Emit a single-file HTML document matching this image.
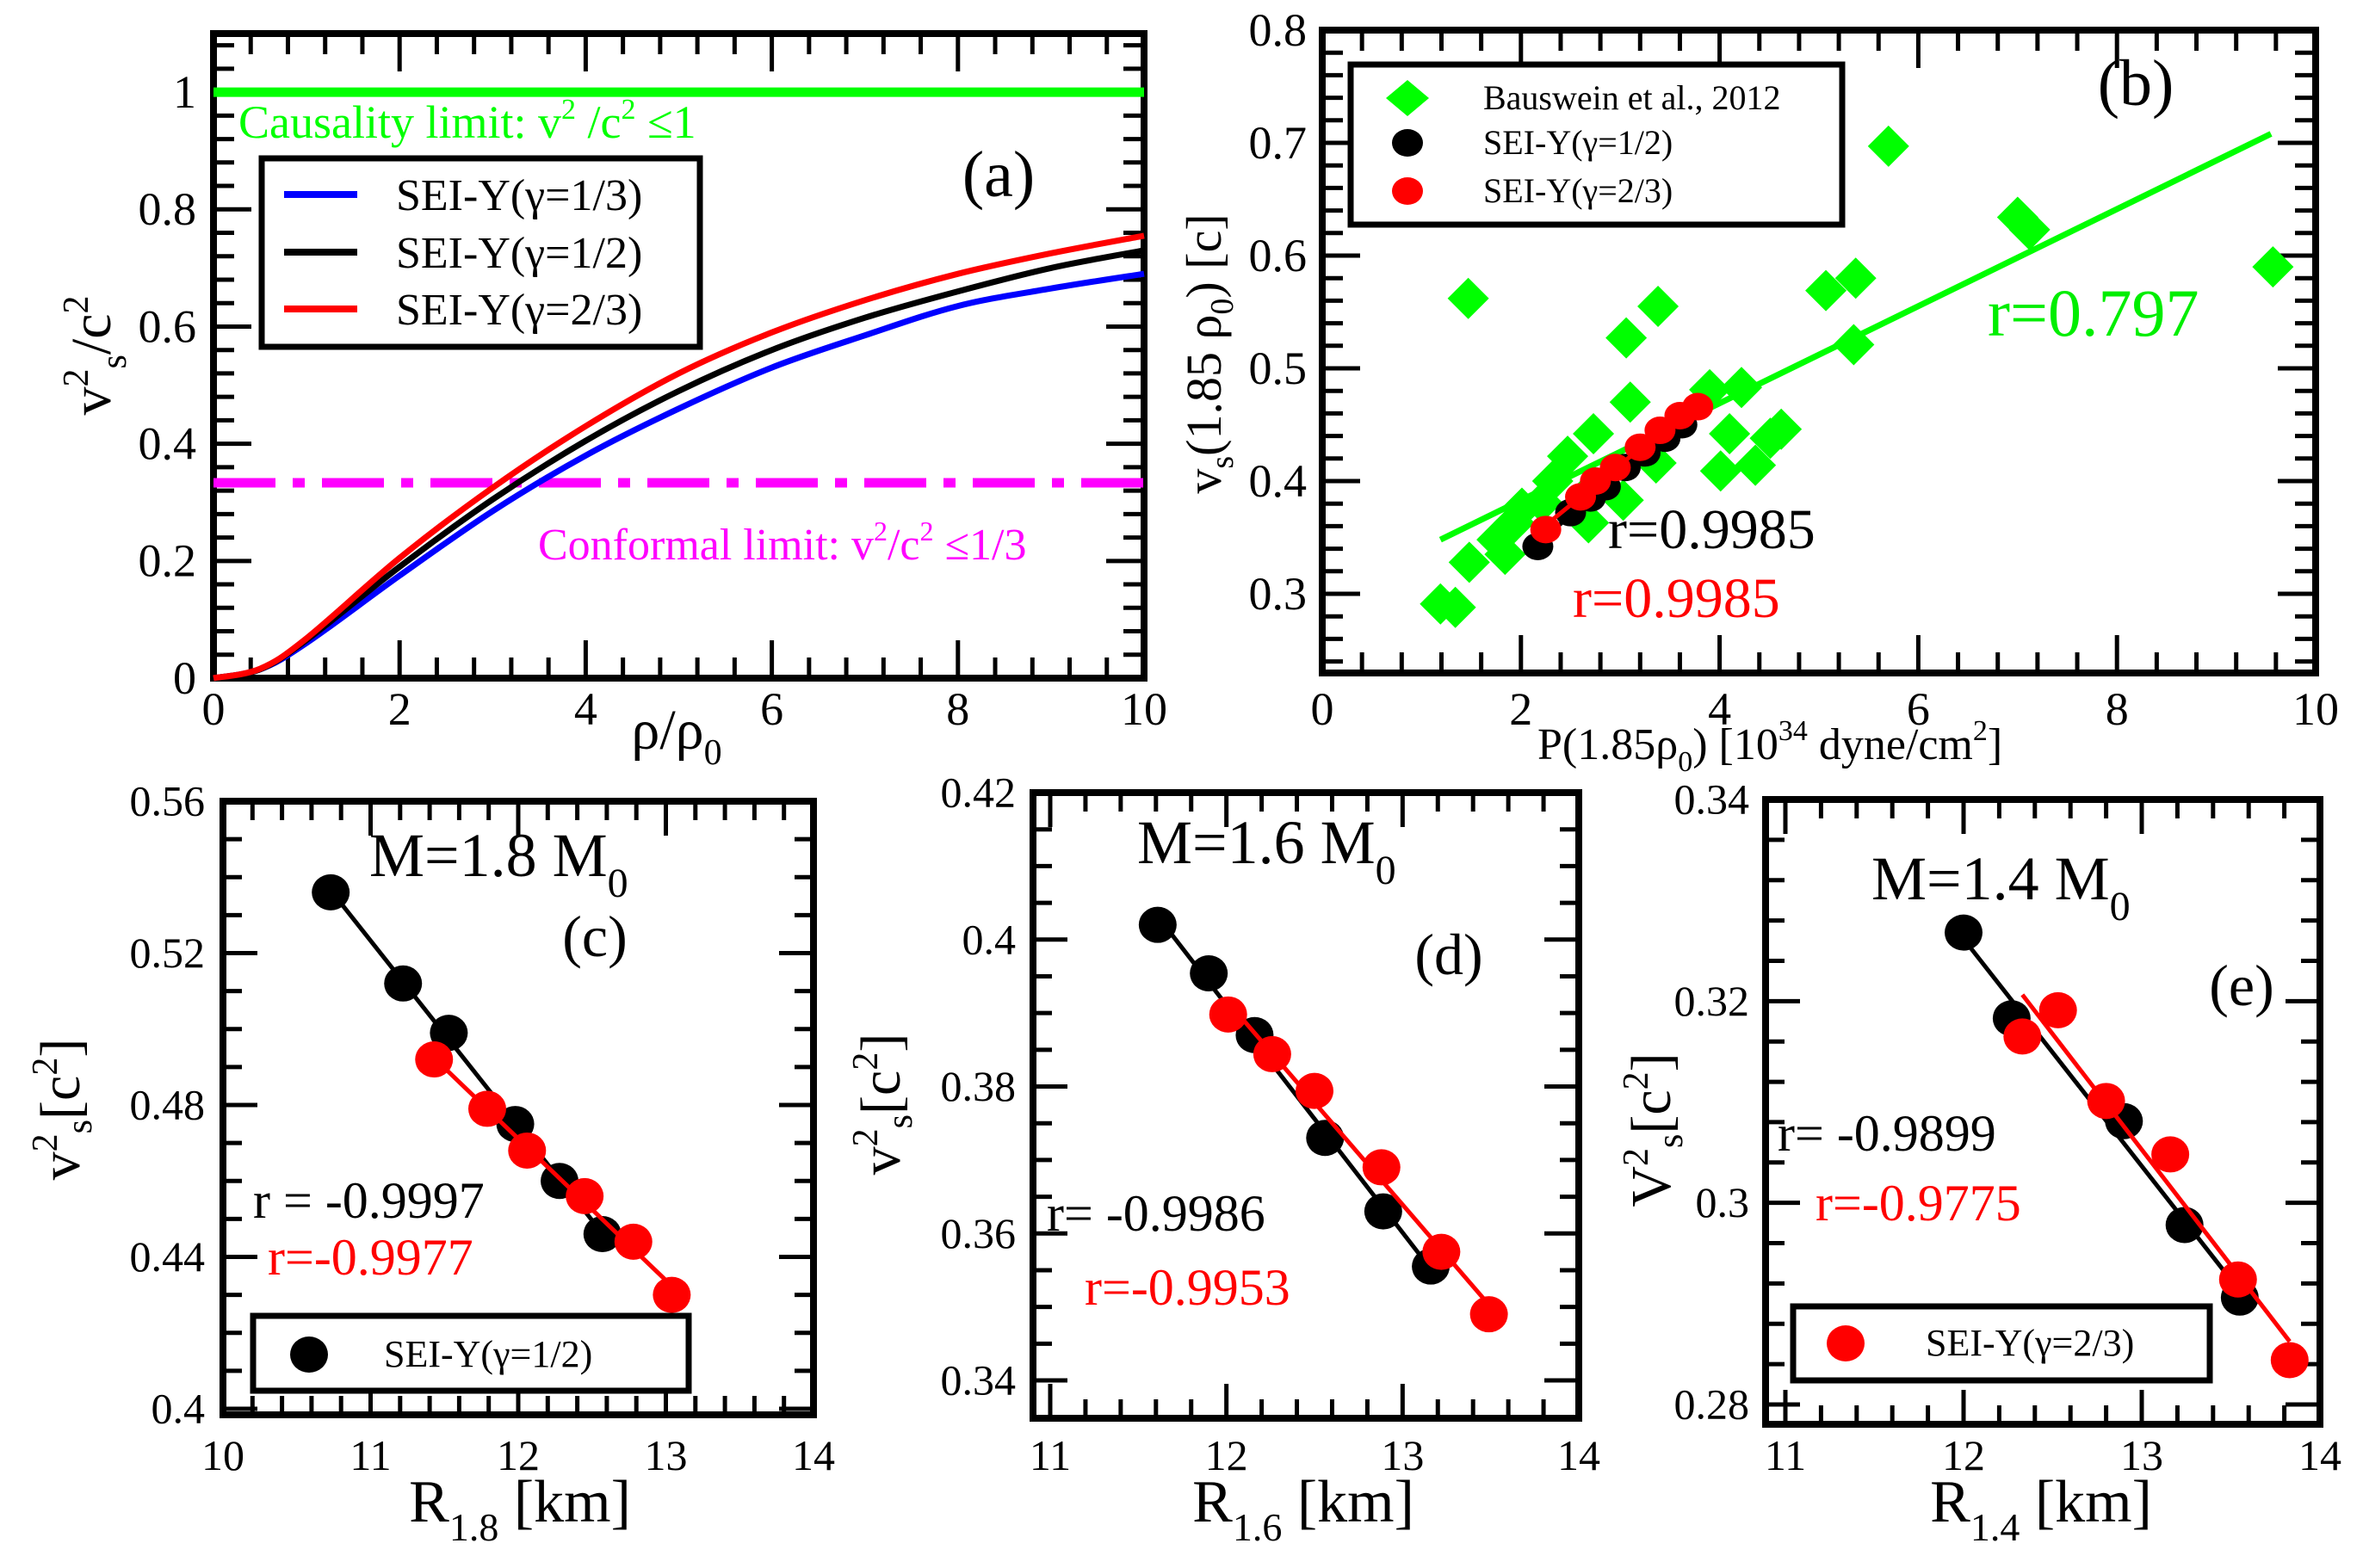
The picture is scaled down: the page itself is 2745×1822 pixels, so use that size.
<!DOCTYPE html>
<html><head><meta charset="utf-8"><style>
html,body{margin:0;padding:0;background:#fff}
svg{display:block;font-family:"Liberation Serif",serif}
</style></head><body>
<svg id="fig" width="2745" height="1822" viewBox="0 0 2745 1822" xmlns="http://www.w3.org/2000/svg">
<g id="static">
<text x="277" y="160" font-size="54" fill="#00ff00">Causality limit: v<tspan dy="-22" font-size="34">2</tspan><tspan dy="22"> /c</tspan><tspan dy="-22" font-size="34">2</tspan><tspan dy="22"> ≤1</tspan></text>
<text x="625" y="650" font-size="52" fill="#ff00ff">Conformal limit: v<tspan dy="-22" font-size="32">2</tspan><tspan dy="22">/c</tspan><tspan dy="-22" font-size="32">2</tspan><tspan dy="22"> ≤1/3</tspan></text>
<text x="1160" y="228" font-size="76" text-anchor="middle">(a)</text>
<text transform="translate(128,413) rotate(-90)" font-size="66" text-anchor="middle">v<tspan dy="-26" font-size="42">2</tspan><tspan dy="44" font-size="42">s</tspan><tspan dy="-18">/c</tspan><tspan dy="-26" font-size="42">2</tspan></text>
<text x="786" y="870" font-size="66" text-anchor="middle">ρ/ρ<tspan dy="18" font-size="42">0</tspan></text>
<text x="2481" y="122" font-size="76" text-anchor="middle">(b)</text>
<text x="2309" y="390" font-size="78" fill="#00ee00">r=0.797</text>
<text x="1868" y="637" font-size="66">r=0.9985</text>
<text x="1827" y="717" font-size="66" fill="#ff0000">r=0.9985</text>
<text transform="translate(1418,411) rotate(-90)" font-size="58" text-anchor="middle">v<tspan dy="14" font-size="38">s</tspan><tspan dy="-14">(1.85 ρ</tspan><tspan dy="14" font-size="38">0</tspan><tspan dy="-14">) [c]</tspan></text>
<text x="1786" y="882" font-size="52">P(1.85ρ<tspan dy="14" font-size="34">0</tspan><tspan dy="-14">)  [10</tspan><tspan dy="-22" font-size="34">34</tspan><tspan dy="22"> dyne/cm</tspan><tspan dy="-22" font-size="34">2</tspan><tspan dy="22">]</tspan></text>
<text x="429" y="1018" font-size="72">M=1.8 M<tspan dy="24" font-size="48">0</tspan></text>
<text x="691" y="1111" font-size="68" text-anchor="middle">(c)</text>
<text x="294" y="1415" font-size="60">r = -0.9997</text>
<text x="311" y="1481" font-size="60" fill="#ff0000">r=-0.9977</text>
<text transform="translate(92,1289) rotate(-90)" font-size="66" text-anchor="middle">v<tspan dy="-26" font-size="42">2</tspan><tspan dy="40" font-size="42">s</tspan><tspan dy="-14">[c</tspan><tspan dy="-26" font-size="42">2</tspan><tspan dy="26">]</tspan></text>
<text x="604" y="1768" font-size="70" text-anchor="middle">R<tspan dy="22" font-size="46">1.8</tspan><tspan dy="-22"> [km]</tspan></text>
<text x="1321" y="1003" font-size="72">M=1.6 M<tspan dy="24" font-size="48">0</tspan></text>
<text x="1683" y="1132" font-size="68" text-anchor="middle">(d)</text>
<text x="1216" y="1430" font-size="60">r= -0.9986</text>
<text x="1260" y="1516" font-size="60" fill="#ff0000">r=-0.9953</text>
<text transform="translate(1045,1283) rotate(-90)" font-size="66" text-anchor="middle">v<tspan dy="-26" font-size="42">2</tspan><tspan dy="40" font-size="42">s</tspan><tspan dy="-14">[c</tspan><tspan dy="-26" font-size="42">2</tspan><tspan dy="26">]</tspan></text>
<text x="1514" y="1768" font-size="70" text-anchor="middle">R<tspan dy="22" font-size="46">1.6</tspan><tspan dy="-22"> [km]</tspan></text>
<text x="2174" y="1045" font-size="72">M=1.4 M<tspan dy="24" font-size="48">0</tspan></text>
<text x="2604" y="1168" font-size="68" text-anchor="middle">(e)</text>
<text x="2065" y="1337" font-size="60">r= -0.9899</text>
<text x="2109" y="1418" font-size="60" fill="#ff0000">r=-0.9775</text>
<text transform="translate(1940,1313) rotate(-90)" font-size="66" text-anchor="middle">V<tspan dy="-26" font-size="42">2</tspan><tspan dy="40" font-size="42">s</tspan><tspan dy="-14">[c</tspan><tspan dy="-26" font-size="42">2</tspan><tspan dy="26">]</tspan></text>
<text x="2371" y="1768" font-size="70" text-anchor="middle">R<tspan dy="22" font-size="46">1.4</tspan><tspan dy="-22"> [km]</tspan></text>
</g>
</svg>
<script>
const aX = [0,0.5,1,2,3,4,5,6,7,8,9,10];
const aBlue = [0,0.015,0.06,0.175,0.285,0.38,0.46,0.53,0.585,0.635,0.665,0.69];
const aBlack = [0,0.015,0.065,0.19,0.305,0.405,0.49,0.56,0.615,0.66,0.70,0.73];
const aRed = [0,0.016,0.068,0.205,0.325,0.43,0.52,0.59,0.645,0.69,0.725,0.755];
const aXTicks = [0,2,4,6,8,10];
const aYTicks = [0,0.2,0.4,0.6,0.8,1];
const aYTickLabels = ["0","0.2","0.4","0.6","0.8","1"];
const aCausal = 1.0;
const aConformal = 1/3;

const bDiamX = [1.19,1.34,1.47,1.48,1.76,1.84,1.93,2.01,2.21,2.32,2.47,2.68,2.69,2.73,3.03,3.10,3.06,3.38,3.36,3.90,4.22,4.01,4.10,4.36,4.51,4.62,5.07,5.37,5.35,5.70,7.00,7.12,9.57];
const bDiamY = [0.291,0.288,0.562,0.328,0.348,0.335,0.363,0.376,0.381,0.40,0.422,0.363,0.39,0.442,0.383,0.470,0.527,0.555,0.416,0.481,0.483,0.409,0.442,0.414,0.438,0.446,0.569,0.580,0.521,0.697,0.634,0.623,0.590];
const bFitX = [1.19,9.55];
const bFitY = [0.348,0.708];
const bBlackX = [2.17,2.5,2.7,2.85,3.05,3.25,3.45,3.62];
const bBlackY = [0.342,0.372,0.385,0.395,0.412,0.425,0.438,0.45];
const bRedX = [2.25,2.6,2.75,2.95,3.2,3.4,3.6,3.78];
const bRedY = [0.357,0.386,0.40,0.412,0.43,0.445,0.458,0.466];
const bXTicks = [0,2,4,6,8,10];
const bYTicks = [0.3,0.4,0.5,0.6,0.7,0.8];

const cBlackX = [10.73,11.22,11.53,11.98,12.28,12.57];
const cBlackY = [0.536,0.512,0.499,0.475,0.460,0.446];
const cRedX = [11.43,11.79,12.06,12.45,12.78,13.04];
const cRedY = [0.492,0.479,0.468,0.456,0.444,0.430];
const cXTicks = [10,11,12,13,14];
const cYTicks = [0.4,0.44,0.48,0.52,0.56];

const dBlackX = [11.61,11.90,12.16,12.56,12.89,13.16];
const dBlackY = [0.402,0.3954,0.387,0.373,0.363,0.3555];
const dRedX = [12.01,12.26,12.50,12.88,13.22,13.49];
const dRedY = [0.3898,0.3844,0.3794,0.369,0.3575,0.349];
const dXTicks = [11,12,13,14];
const dYTicks = [0.34,0.36,0.38,0.4,0.42];

const eBlackX = [12.00,12.27,12.90,13.24,13.55];
const eBlackY = [0.3268,0.3183,0.3081,0.2978,0.2906];
const eRedX = [12.33,12.53,12.80,13.16,13.54,13.83];
const eRedY = [0.3165,0.3191,0.3101,0.3048,0.2924,0.2844];
const eXTicks = [11,12,13,14];
const eYTicks = [0.28,0.3,0.32,0.34];

const NS = "http://www.w3.org/2000/svg";
const svg = document.getElementById('fig');
function mk(tag, attrs, parent){
  const el = document.createElementNS(NS, tag);
  for (const k in attrs) el.setAttribute(k, attrs[k]);
  (parent||svg).appendChild(el);
  return el;
}
function lin(d0,d1,p0,p1){ return v => p0 + (v-d0)*(p1-p0)/(d1-d0); }
function fmt(v){ return String(+v.toFixed(3)); }

function axes(p){
  const g = mk('g', {});
  
  
  for (let v = p.x0; v <= p.x1 + 1e-9; v += p.xMinor){
    const x = p.sx(v);
    if (x < p.L-1 || x > p.R+1) continue;
    const major = p.xTicks.some(t => Math.abs(t-v) < 1e-6);
    const len = major ? p.majLen : p.minLen;
    const t1 = mk('line', {x1:x, y1:p.B, x2:x, y2:p.B-len, stroke:'#000','stroke-width':5}, g);
    
    
    const t2 = mk('line', {x1:x, y1:p.T, x2:x, y2:p.T+len, stroke:'#000','stroke-width':5}, g);
    
    
  }
  for (let v = p.y0; v <= p.y1 + 1e-9; v += p.yMinor){
    const y = p.sy(v);
    if (y < p.T-1 || y > p.B+1) continue;
    const major = p.yTicks.some(t => Math.abs(t-v) < 1e-6);
    const len = major ? p.majLen : p.minLen;
    const t1 = mk('line', {x1:p.L, y1:y, x2:p.L+len, y2:y, stroke:'#000','stroke-width':5}, g);
    
    
    const t2 = mk('line', {x1:p.R, y1:y, x2:p.R-len, y2:y, stroke:'#000','stroke-width':5}, g);
    
    
  }
  p.xTicks.forEach(v => {
    const t = mk('text', {x:p.sx(v), y:p.xLabY, 'font-size':p.fs, 'text-anchor':'middle'}, g);
    
    
    t.textContent = fmt(v);
  });
  p.yTicks.forEach((v,i) => {
    const t = mk('text', {x:p.yLabX, y:p.sy(v)+p.fs*0.33, 'font-size':p.fs, 'text-anchor':'end'}, g);
    
    
    t.textContent = p.yLabels ? p.yLabels[i] : fmt(v);
  });
  const fr = mk('rect', {x:p.L, y:p.T, width:p.R-p.L, height:p.B-p.T, fill:'none', stroke:'#000', 'stroke-width':8}, g);
  
  
}
function polyline(xs, ys, sx, sy, color, w, name){
  const pts = xs.map((x,i) => sx(x).toFixed(1)+','+sy(ys[i]).toFixed(1)).join(' ');
  const el = mk('polyline', {points:pts, fill:'none', stroke:color, 'stroke-width':w, 'stroke-linejoin':'round'});
  
  
  return el;
}
function smoothPath(xs, ys, sx, sy, color, w, name){
  const P = xs.map((x,i)=>[sx(x), sy(ys[i])]);
  let d = 'M' + P[0][0].toFixed(1) + ',' + P[0][1].toFixed(1);
  for (let i=0;i<P.length-1;i++){
    const p0 = P[Math.max(0,i-1)], p1 = P[i], p2 = P[i+1], p3 = P[Math.min(P.length-1,i+2)];
    const c1 = [p1[0]+(p2[0]-p0[0])/6, p1[1]+(p2[1]-p0[1])/6];
    const c2 = [p2[0]-(p3[0]-p1[0])/6, p2[1]-(p3[1]-p1[1])/6];
    d += ' C' + c1.map(v=>v.toFixed(1)).join(',') + ' ' + c2.map(v=>v.toFixed(1)).join(',') + ' ' + p2.map(v=>v.toFixed(1)).join(',');
  }
  const el = mk('path', {d:d, fill:'none', stroke:color, 'stroke-width':w, 'stroke-linejoin':'round'});
  
  
}
function dots(xs, ys, sx, sy, color, rx, ry, name){
  xs.forEach((x,i) => {
    const el = mk('ellipse', {cx:sx(x), cy:sy(ys[i]), rx:rx, ry:ry, fill:color});
    
    
  });
}
function fitLine(xs, ys, sx, sy, color, w, name){
  const n = xs.length;
  let mx=0,my=0; xs.forEach((x,i)=>{mx+=x;my+=ys[i];}); mx/=n; my/=n;
  let sxy=0,sxx=0; xs.forEach((x,i)=>{sxy+=(x-mx)*(ys[i]-my); sxx+=(x-mx)*(x-mx);});
  const b = sxy/sxx, a = my - b*mx;
  const xa = xs[0], xb = xs[n-1];
  polyline([xa,xb],[a+b*xa,a+b*xb],sx,sy,color,w,name);
}

(function(){
  const L=248,R=1329,T=39,B=788;
  const sx = lin(0,10,L,R), sy = lin(0,1.1,B,T);
  axes({name:'panel-a',L,R,T,B,sx,sy,x0:0,x1:10,y0:0,y1:1.1,xMinor:0.4,yMinor:0.04,xTicks:aXTicks,yTicks:aYTicks,yLabels:aYTickLabels,majLen:44,minLen:24,fs:54,xLabY:842,yLabX:228});
  const c = mk('line',{x1:L,y1:sy(aCausal),x2:R,y2:sy(aCausal),stroke:'#00ff00','stroke-width':11});
  
  
  const m = mk('line',{x1:L,y1:sy(aConformal),x2:R,y2:sy(aConformal),stroke:'#ff00ff','stroke-width':11,'stroke-dasharray':'72 20 14 20'});
  
  
  smoothPath(aX, aBlue, sx, sy, '#0000ff', 7, 'curve-gamma-1-3');
  smoothPath(aX, aBlack, sx, sy, '#000000', 7, 'curve-gamma-1-2');
  smoothPath(aX, aRed, sx, sy, '#ff0000', 7, 'curve-gamma-2-3');
  const lg = mk('g',{});
  
  
  const box = mk('rect',{x:304,y:184,width:509,height:219,fill:'#fff',stroke:'#000','stroke-width':7},lg);
  
  
  const ents = [['#0000ff','SEI-Y(γ=1/3)',226],['#000000','SEI-Y(γ=1/2)',293],['#ff0000','SEI-Y(γ=2/3)',359]];
  ents.forEach(e => {
    const ln = mk('line',{x1:330,y1:e[2],x2:415,y2:e[2],stroke:e[0],'stroke-width':8},lg);
    
    
    const t = mk('text',{x:460,y:e[2]+18,'font-size':52},lg);
    
    
    t.textContent = e[1];
  });
})();

(function(){
  const L=1536,R=2690,T=35,B=782;
  const sx = lin(0,10,L,R), sy = lin(0.3,0.8,690,35);
  axes({name:'panel-b',L,R,T,B,sx,sy,x0:0,x1:10,y0:0.24,y1:0.8,xMinor:0.4,yMinor:0.02,xTicks:bXTicks,yTicks:bYTicks,majLen:44,minLen:24,fs:54,xLabY:842,yLabX:1518});
  polyline(bFitX, bFitY, sx, sy, '#00ff00', 7, 'b-fit-line-green');
  bDiamX.forEach((x,i)=>{
    const cx=sx(x), cy=sy(bDiamY[i]), r=24;
    const d = mk('polygon',{points:`${cx},${cy-r} ${cx+r},${cy} ${cx},${cy+r} ${cx-r},${cy}`,fill:'#00ff00'});
    
    
  });
  fitLine(bBlackX, bBlackY, sx, sy, '#000', 5, 'b-fit-line-black');
  dots(bBlackX, bBlackY, sx, sy, '#000', 18, 16, 'sei-half-point');
  fitLine(bRedX, bRedY, sx, sy, '#ff0000', 5, 'b-fit-line-red');
  dots(bRedX, bRedY, sx, sy, '#ff0000', 18, 16, 'sei-two-thirds-point');
  const lg = mk('g',{});
  
  
  const box = mk('rect',{x:1569,y:75,width:571,height:186,fill:'#fff',stroke:'#000','stroke-width':7},lg);
  
  
  const dm = mk('polygon',{points:'1635,93 1660,114 1635,135 1610,114',fill:'#00ff00'},lg);
  
  
  const c1 = mk('ellipse',{cx:1635,cy:166,rx:18,ry:16,fill:'#000'},lg);
  
  
  const c2 = mk('ellipse',{cx:1635,cy:222,rx:18,ry:16,fill:'#ff0000'},lg);
  
  
  [['Bauswein et al., 2012',127],['SEI-Y(γ=1/2)',179],['SEI-Y(γ=2/3)',235]].forEach(e=>{
    const t = mk('text',{x:1723,y:e[1],'font-size':40},lg);
    
    
    t.textContent = e[0];
  });
})();

function bottom(cfg){
  const sx = lin(cfg.xa,cfg.xb,cfg.pa,cfg.pb), sy = lin(cfg.ya,cfg.yb,cfg.qa,cfg.qb);
  axes({name:cfg.name,L:cfg.L,R:cfg.R,T:cfg.T,B:cfg.B,sx,sy,x0:cfg.xa-1,x1:cfg.x1,y0:cfg.y0,y1:cfg.y1,xMinor:0.2,yMinor:cfg.yMinor,xTicks:cfg.xTicks,yTicks:cfg.yTicks,majLen:40,minLen:22,fs:50,xLabY:1708,yLabX:cfg.yLabX});
  return {sx,sy};
}
(function(){
  const s = bottom({name:'panel-c',L:259,R:945,T:931,B:1644,xa:10,xb:14,pa:259,pb:945,ya:0.4,yb:0.56,qa:1637,qb:931,x1:14,y0:0.4,y1:0.56,yMinor:0.01,xTicks:cXTicks,yTicks:cYTicks,yLabX:238});
  fitLine(cBlackX,cBlackY,s.sx,s.sy,'#000',5,'c-fit-line-black');
  dots(cBlackX,cBlackY,s.sx,s.sy,'#000',22,21,'c-point-black');
  fitLine(cRedX,cRedY,s.sx,s.sy,'#ff0000',5,'c-fit-line-red');
  dots(cRedX,cRedY,s.sx,s.sy,'#ff0000',22,21,'c-point-red');
  const box = mk('rect',{x:294,y:1529,width:506,height:87,fill:'#fff',stroke:'#000','stroke-width':7});
  
  
  const c = mk('ellipse',{cx:359,cy:1574,rx:22,ry:21,fill:'#000'});
  
  
  const t = mk('text',{x:446,y:1588,'font-size':44});
  
  
  t.textContent = 'SEI-Y(γ=1/2)';
})();
(function(){
  const s = bottom({name:'panel-d',L:1200,R:1834,T:921,B:1648,xa:11,xb:14,pa:1220,pb:1834,ya:0.34,yb:0.42,qa:1604,qb:921,x1:14,y0:0.335,y1:0.42,yMinor:0.005,xTicks:dXTicks,yTicks:dYTicks,yLabX:1180});
  fitLine(dBlackX,dBlackY,s.sx,s.sy,'#000',5,'d-fit-line-black');
  dots(dBlackX,dBlackY,s.sx,s.sy,'#000',22,21,'d-point-black');
  fitLine(dRedX,dRedY,s.sx,s.sy,'#ff0000',5,'d-fit-line-red');
  dots(dRedX,dRedY,s.sx,s.sy,'#ff0000',22,21,'d-point-red');
})();
(function(){
  const s = bottom({name:'panel-e',L:2051,R:2695,T:929,B:1655,xa:11,xb:14,pa:2074,pb:2695,ya:0.28,yb:0.34,qa:1632,qb:929,x1:14,y0:0.276,y1:0.34,yMinor:0.004,xTicks:eXTicks,yTicks:eYTicks,yLabX:2032});
  fitLine(eBlackX,eBlackY,s.sx,s.sy,'#000',5,'e-fit-line-black');
  dots(eBlackX,eBlackY,s.sx,s.sy,'#000',22,21,'e-point-black');
  fitLine(eRedX,eRedY,s.sx,s.sy,'#ff0000',5,'e-fit-line-red');
  dots(eRedX,eRedY,s.sx,s.sy,'#ff0000',22,21,'e-point-red');
  const box = mk('rect',{x:2083,y:1518,width:484,height:86,fill:'#fff',stroke:'#000','stroke-width':7});
  
  
  const c = mk('ellipse',{cx:2144,cy:1561,rx:22,ry:21,fill:'#ff0000'});
  
  
  const t = mk('text',{x:2237,y:1575,'font-size':44});
  
  
  t.textContent = 'SEI-Y(γ=2/3)';
})();
svg.appendChild(document.getElementById('static'));
</script>
</body></html>
